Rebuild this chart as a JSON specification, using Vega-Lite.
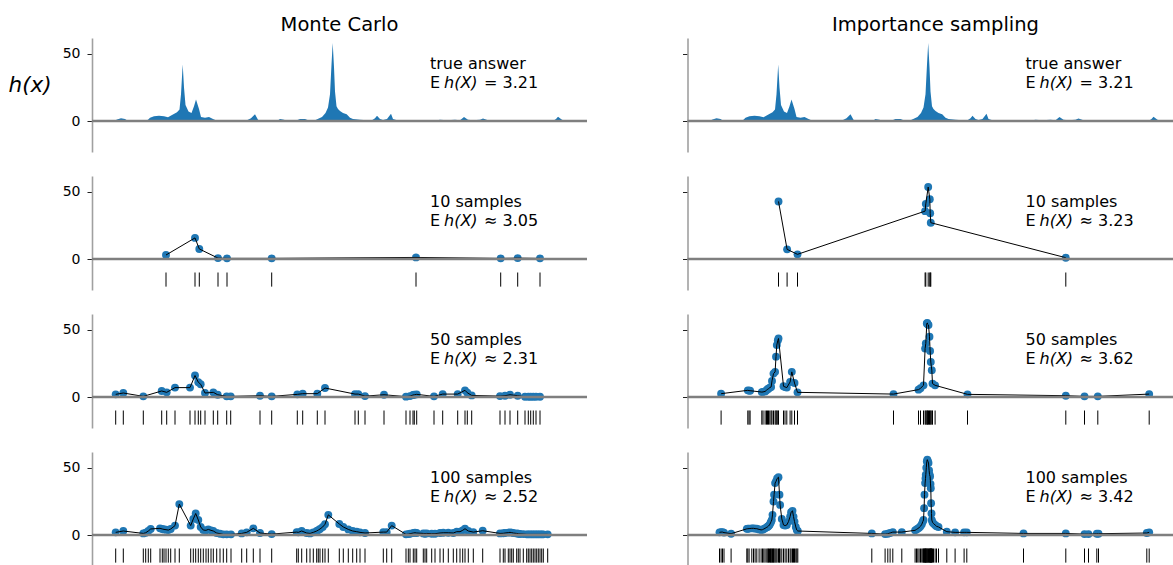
{
"$schema": "https://vega.github.io/schema/vega-lite/v6.json",
"padding": {"left": 8, "top": 14, "right": 0, "bottom": 0},
"spacing": 92.5,
"config": {
 "view": {"stroke": null},
 "axis": {"grid": false, "domainColor": "#a0a0a0", "domainWidth": 1.6, "tickColor": "#222222", "tickSize": 5, "tickWidth": 1, "labelFont": "DejaVu Sans", "labelFontSize": 14, "labelColor": "#000000", "labelPadding": 7},
 "text": {"font": "DejaVu Sans", "fontSize": 16, "color": "#000000", "align": "left", "baseline": "alphabetic"},
 "title": {"font": "DejaVu Sans", "fontSize": 19.5, "fontWeight": "normal", "color": "#000000", "anchor": "middle", "baseline": "alphabetic", "offset": 3}
},
"datasets": {
 "truth": [{"x":8,"h":0},{"x":22,"h":0},{"x":25,"h":1.2},{"x":29,"h":2},{"x":33,"h":1.5},{"x":36,"h":0},{"x":53,"h":0},{"x":56,"h":1},{"x":58,"h":2.5},{"x":62,"h":3.5},{"x":67,"h":4},{"x":72,"h":3.5},{"x":76,"h":2.8},{"x":80,"h":4.5},{"x":85,"h":6.5},{"x":87.5,"h":8.5},{"x":89,"h":20},{"x":90.7,"h":42},{"x":92,"h":25},{"x":93.5,"h":12},{"x":96.5,"h":7},{"x":99.5,"h":6},{"x":102,"h":11},{"x":104,"h":16},{"x":107,"h":9},{"x":109,"h":3},{"x":113,"h":2.5},{"x":117,"h":3},{"x":121,"h":1.5},{"x":125,"h":0.3},{"x":127,"h":0},{"x":152,"h":0},{"x":155,"h":0.5},{"x":159,"h":2},{"x":163,"h":5},{"x":166,"h":1},{"x":168,"h":0},{"x":185,"h":0},{"x":188,"h":1.5},{"x":192,"h":1},{"x":195,"h":0},{"x":203,"h":0},{"x":208,"h":1.5},{"x":213,"h":1.5},{"x":218,"h":0},{"x":223,"h":0.5},{"x":230,"h":3},{"x":233.5,"h":6},{"x":236,"h":10},{"x":238,"h":20},{"x":239.5,"h":42},{"x":240.7,"h":58},{"x":242,"h":40},{"x":243,"h":22},{"x":244.5,"h":11},{"x":246,"h":9},{"x":248,"h":7.5},{"x":251,"h":6},{"x":254.7,"h":5},{"x":258,"h":2.5},{"x":261,"h":1.5},{"x":268,"h":1},{"x":275,"h":0.5},{"x":280,"h":0.5},{"x":283,"h":2},{"x":285,"h":4},{"x":288,"h":1.5},{"x":291,"h":0.8},{"x":295,"h":1.5},{"x":299,"h":5.5},{"x":301,"h":1.5},{"x":305,"h":0.5},{"x":311,"h":0.2},{"x":318,"h":0},{"x":325,"h":0.5},{"x":330,"h":0.3},{"x":335,"h":0},{"x":345,"h":0.5},{"x":348,"h":1},{"x":355,"h":0.5},{"x":363,"h":1},{"x":368,"h":0.5},{"x":372,"h":3},{"x":376,"h":1},{"x":381,"h":0.5},{"x":388,"h":1},{"x":391,"h":1.8},{"x":396,"h":0.5},{"x":403,"h":0},{"x":415,"h":0.3},{"x":418,"h":0.5},{"x":423,"h":0},{"x":461,"h":0},{"x":464,"h":1.5},{"x":466,"h":3.2},{"x":470,"h":1},{"x":473,"h":0}],
 "mc10": [{"x":74,"h":3.0},{"x":103,"h":15.7},{"x":107.3,"h":7.5},{"x":126,"h":0.7},{"x":135,"h":0.5},{"x":179.7,"h":0.5},{"x":324,"h":1.2},{"x":408.7,"h":0.5},{"x":425.7,"h":0.7},{"x":448,"h":0.5}],
 "is10": [{"x":91,"h":42.8},{"x":99.6,"h":7.2},{"x":110,"h":3.5},{"x":237.6,"h":35.6},{"x":238.3,"h":41},{"x":240.7,"h":53.5},{"x":242.3,"h":44.5},{"x":242.7,"h":34},{"x":243.3,"h":27},{"x":378.3,"h":1}],
 "mc50": [{"x":23.7,"h":2},{"x":31.3,"h":3},{"x":51.3,"h":0.5},{"x":69.7,"h":4.5},{"x":74.7,"h":3.5},{"x":83,"h":7},{"x":98,"h":7},{"x":103,"h":16},{"x":106.3,"h":11},{"x":108.7,"h":9.5},{"x":113,"h":3},{"x":121.3,"h":3.5},{"x":125.7,"h":1.7},{"x":134.7,"h":0.5},{"x":138.7,"h":0.5},{"x":168,"h":1},{"x":179.7,"h":0.5},{"x":205.3,"h":2},{"x":210.7,"h":2.5},{"x":225.3,"h":2.5},{"x":233,"h":6.7},{"x":263,"h":2.2},{"x":266.3,"h":2.2},{"x":273,"h":0.7},{"x":292,"h":1.7},{"x":314,"h":0.3},{"x":318,"h":0.7},{"x":321,"h":1.5},{"x":322.3,"h":1.7},{"x":324.7,"h":2},{"x":342,"h":0.5},{"x":350.7,"h":2.2},{"x":365.7,"h":2.2},{"x":373,"h":5},{"x":375.3,"h":3.2},{"x":379.7,"h":1.2},{"x":408,"h":0.7},{"x":413,"h":1},{"x":418,"h":1.7},{"x":425.7,"h":1},{"x":433,"h":0.2},{"x":436.3,"h":0.2},{"x":438.7,"h":0.2},{"x":441.3,"h":0.2},{"x":444,"h":0.2},{"x":448,"h":0.2}],
 "is50": [{"x":33.6,"h":2.5},{"x":60.3,"h":5},{"x":61.5,"h":4.8},{"x":62.6,"h":4.7},{"x":74.3,"h":3.7},{"x":75.5,"h":3.8},{"x":77.6,"h":4.2},{"x":79,"h":5},{"x":80,"h":5.8},{"x":81,"h":6.2},{"x":82.3,"h":7},{"x":83.6,"h":7.5},{"x":84.5,"h":12},{"x":86,"h":17.4},{"x":87.6,"h":18.7},{"x":88.5,"h":30},{"x":89.3,"h":38.6},{"x":90.3,"h":42},{"x":91,"h":43.5},{"x":96,"h":8},{"x":97.5,"h":7.5},{"x":99.3,"h":7},{"x":102.6,"h":11.2},{"x":104.3,"h":18.7},{"x":107,"h":10.4},{"x":110,"h":3.5},{"x":206,"h":2.2},{"x":231,"h":5.5},{"x":233,"h":6.5},{"x":236,"h":8.7},{"x":237.6,"h":36},{"x":238.3,"h":39.8},{"x":239.3,"h":54.7},{"x":239.8,"h":55},{"x":240.3,"h":54},{"x":241,"h":53.5},{"x":242,"h":44.8},{"x":242.6,"h":34.3},{"x":243.3,"h":26},{"x":244.3,"h":20},{"x":245,"h":10},{"x":247.6,"h":8.7},{"x":280,"h":2},{"x":378.3,"h":1},{"x":397,"h":0.5},{"x":410.3,"h":0.5},{"x":461.7,"h":2.2}],
 "mc100": [{"x":23.7,"h":2},{"x":31.3,"h":3},{"x":51.3,"h":1.2},{"x":53.7,"h":1.7},{"x":56.3,"h":3},{"x":58.7,"h":4.5},{"x":68,"h":5},{"x":70.3,"h":4.5},{"x":72,"h":4.2},{"x":74,"h":4},{"x":76.3,"h":3.7},{"x":78.7,"h":4.5},{"x":83,"h":7},{"x":87.3,"h":23},{"x":98.7,"h":7},{"x":101.3,"h":12},{"x":103.7,"h":16},{"x":106.3,"h":11.2},{"x":108.7,"h":6},{"x":111.3,"h":3.7},{"x":114,"h":3.5},{"x":116.3,"h":4.2},{"x":119,"h":3.5},{"x":121.3,"h":3},{"x":124.7,"h":1.5},{"x":128,"h":1},{"x":131.3,"h":0.5},{"x":134.7,"h":0.5},{"x":139,"h":0.5},{"x":149.7,"h":1.2},{"x":154.7,"h":2},{"x":161.3,"h":5},{"x":168,"h":1.5},{"x":179.7,"h":0.7},{"x":204.7,"h":2.2},{"x":206.3,"h":2},{"x":209.7,"h":3},{"x":214.7,"h":1.5},{"x":218,"h":1.2},{"x":221.3,"h":2},{"x":224.7,"h":3},{"x":226.3,"h":3.7},{"x":228,"h":4.5},{"x":230.7,"h":6},{"x":233,"h":8},{"x":236.3,"h":15},{"x":247.3,"h":8.2},{"x":251.3,"h":6},{"x":256.3,"h":4.2},{"x":260.7,"h":3},{"x":264.7,"h":2.5},{"x":268,"h":2},{"x":273,"h":1.5},{"x":291.3,"h":2.2},{"x":294.7,"h":2.2},{"x":299.7,"h":7},{"x":314,"h":0.5},{"x":316.3,"h":0.7},{"x":318,"h":1},{"x":321.3,"h":1.5},{"x":323,"h":1.7},{"x":324.7,"h":1.5},{"x":331.3,"h":1.2},{"x":333,"h":1},{"x":334.7,"h":1.2},{"x":339.7,"h":1},{"x":343,"h":1},{"x":348,"h":1.5},{"x":351.3,"h":1.7},{"x":356.3,"h":1.7},{"x":361.3,"h":1.5},{"x":364.7,"h":2.5},{"x":368,"h":2.5},{"x":370.7,"h":3.5},{"x":373,"h":4.7},{"x":376.3,"h":3},{"x":381.3,"h":2.2},{"x":390.7,"h":3.2},{"x":408,"h":1.2},{"x":411.3,"h":1.3},{"x":413,"h":1.5},{"x":416.3,"h":1.8},{"x":418,"h":2},{"x":419.7,"h":1.8},{"x":421.3,"h":1.5},{"x":424.7,"h":1.2},{"x":426.3,"h":1},{"x":428,"h":0.8},{"x":431.3,"h":0.7},{"x":434.7,"h":0.5},{"x":436.3,"h":0.5},{"x":438,"h":0.5},{"x":439.7,"h":0.5},{"x":441.3,"h":0.5},{"x":443,"h":0.5},{"x":444.7,"h":0.5},{"x":446.3,"h":0.5},{"x":448,"h":0.5},{"x":449.7,"h":0.5},{"x":451.3,"h":0.5},{"x":455.7,"h":0.5}],
 "is100": [{"x":32,"h":2},{"x":33.6,"h":2.2},{"x":35,"h":2.2},{"x":36.5,"h":1.8},{"x":43.6,"h":1},{"x":59.3,"h":4.6},{"x":60.3,"h":4.7},{"x":61.6,"h":4.8},{"x":64.3,"h":5},{"x":66,"h":5},{"x":67.6,"h":4.8},{"x":69.3,"h":4.7},{"x":71.6,"h":4.2},{"x":73.6,"h":3.8},{"x":75,"h":4},{"x":76.3,"h":4.5},{"x":77.6,"h":5},{"x":79.3,"h":5.8},{"x":80.3,"h":6.2},{"x":81,"h":6.7},{"x":82,"h":7.5},{"x":83,"h":9},{"x":83.6,"h":10},{"x":84.3,"h":11.2},{"x":85,"h":15},{"x":86,"h":24.9},{"x":86.6,"h":30},{"x":87.6,"h":38.6},{"x":88.6,"h":40},{"x":89.6,"h":42},{"x":91,"h":43},{"x":92,"h":30},{"x":92.6,"h":22.4},{"x":94.3,"h":12},{"x":96,"h":7.5},{"x":97.6,"h":7},{"x":99.3,"h":7.5},{"x":101,"h":10},{"x":102.6,"h":13.7},{"x":103.6,"h":17},{"x":105,"h":18},{"x":106,"h":13.7},{"x":107,"h":10},{"x":108.3,"h":6},{"x":109.3,"h":3.7},{"x":110.3,"h":3},{"x":184.3,"h":1.2},{"x":197.6,"h":0.7},{"x":200.3,"h":1},{"x":202.6,"h":1.5},{"x":205.3,"h":2.2},{"x":214.3,"h":2.2},{"x":227.6,"h":3.5},{"x":229,"h":4.2},{"x":230.3,"h":4.8},{"x":231.6,"h":5.5},{"x":233,"h":6.5},{"x":234.3,"h":8},{"x":235.3,"h":10},{"x":236,"h":11.2},{"x":236.6,"h":20},{"x":237,"h":30},{"x":237.6,"h":38.6},{"x":238,"h":42},{"x":238.3,"h":44.8},{"x":238.8,"h":50},{"x":239.3,"h":54.7},{"x":239.8,"h":56},{"x":240.3,"h":55},{"x":241,"h":53.5},{"x":241.6,"h":48},{"x":242,"h":45},{"x":242.6,"h":43.5},{"x":243,"h":38},{"x":243.3,"h":34.8},{"x":243.6,"h":23.6},{"x":244,"h":16},{"x":244.3,"h":11.2},{"x":245,"h":9.5},{"x":246,"h":8.5},{"x":247.6,"h":7.5},{"x":249,"h":6.5},{"x":251,"h":6},{"x":259.3,"h":2.5},{"x":267.6,"h":2},{"x":276.6,"h":2},{"x":279.3,"h":2},{"x":336,"h":1.2},{"x":378.3,"h":1.2},{"x":397,"h":0.7},{"x":401,"h":0.7},{"x":409.3,"h":1},{"x":411,"h":1},{"x":459.3,"h":1.5},{"x":461.7,"h":2}]
},
"hconcat": [
 {"spacing": 24, "vconcat": [
  {"width": 495, "height": 114, "title": {"text": "Monte Carlo"}, "data": {"name": "truth"},
   "layer": [
    {"mark": {"type": "area", "color": "#1f77b4", "opacity": 1},
     "encoding": {"x": {"field": "x", "type": "quantitative", "scale": {"domain": [0, 495], "nice": false}, "axis": null},
      "y": {"field": "h", "type": "quantitative", "scale": {"domain": [-23, 61.7], "nice": false, "zero": false},
       "axis": {"values": [0, 50], "title": "h(x)", "titleAngle": 0, "titleFont": "DejaVu Sans", "titleFontSize": 21.5, "titleFontStyle": "italic", "titleFontWeight": "normal", "titleColor": "#000000", "titleAlign": "left", "titleBaseline": "alphabetic", "titleX": -84, "titleY": 53.3}},
      "y2": {"datum": 0}}},
    {"data": {"values": [{}]}, "mark": {"type": "rule", "color": "#7f7f7f", "strokeWidth": 2.5}, "encoding": {"y": {"datum": 0}}},
    {"data": {"values": [{}]}, "mark": {"type": "text", "text": "true answer"}, "encoding": {"x": {"datum": 338}, "y": {"datum": 38.6}}},
    {"data": {"values": [{}]}, "mark": {"type": "text", "text": "E"}, "encoding": {"x": {"datum": 338}, "y": {"datum": 24.9}}},
    {"data": {"values": [{}]}, "mark": {"type": "text", "text": "h(X)", "dx": 14, "fontStyle": "italic"}, "encoding": {"x": {"datum": 338}, "y": {"datum": 24.9}}},
    {"data": {"values": [{}]}, "mark": {"type": "text", "text": "= 3.21", "dx": 54}, "encoding": {"x": {"datum": 338}, "y": {"datum": 24.9}}}
   ]},
  {"width": 495, "height": 114, "data": {"name": "mc10"},
   "layer": [
    {"mark": {"type": "circle", "size": 62, "color": "#1f77b4", "opacity": 1},
     "encoding": {"x": {"field": "x", "type": "quantitative", "scale": {"domain": [0, 495], "nice": false}, "axis": null},
      "y": {"field": "h", "type": "quantitative", "scale": {"domain": [-23, 61.7], "nice": false, "zero": false}, "axis": {"values": [0, 50], "title": null}}}},
    {"mark": {"type": "line", "color": "#000000", "strokeWidth": 1}, "encoding": {"x": {"field": "x", "type": "quantitative"}, "y": {"field": "h", "type": "quantitative"}}},
    {"data": {"values": [{}]}, "mark": {"type": "rule", "color": "#7f7f7f", "strokeWidth": 2.5}, "encoding": {"y": {"datum": 0}}},
    {"mark": {"type": "rule", "color": "#000000", "strokeWidth": 1}, "encoding": {"x": {"field": "x", "type": "quantitative"}, "y": {"datum": -10}, "y2": {"datum": -20.5}}},
    {"data": {"values": [{}]}, "mark": {"type": "text", "text": "10 samples"}, "encoding": {"x": {"datum": 338}, "y": {"datum": 38.6}}},
    {"data": {"values": [{}]}, "mark": {"type": "text", "text": "E"}, "encoding": {"x": {"datum": 338}, "y": {"datum": 24.9}}},
    {"data": {"values": [{}]}, "mark": {"type": "text", "text": "h(X)", "dx": 14, "fontStyle": "italic"}, "encoding": {"x": {"datum": 338}, "y": {"datum": 24.9}}},
    {"data": {"values": [{}]}, "mark": {"type": "text", "text": "≈ 3.05", "dx": 54}, "encoding": {"x": {"datum": 338}, "y": {"datum": 24.9}}}
   ]},
  {"width": 495, "height": 114, "data": {"name": "mc50"},
   "layer": [
    {"mark": {"type": "circle", "size": 62, "color": "#1f77b4", "opacity": 1},
     "encoding": {"x": {"field": "x", "type": "quantitative", "scale": {"domain": [0, 495], "nice": false}, "axis": null},
      "y": {"field": "h", "type": "quantitative", "scale": {"domain": [-23, 61.7], "nice": false, "zero": false}, "axis": {"values": [0, 50], "title": null}}}},
    {"mark": {"type": "line", "color": "#000000", "strokeWidth": 1}, "encoding": {"x": {"field": "x", "type": "quantitative"}, "y": {"field": "h", "type": "quantitative"}}},
    {"data": {"values": [{}]}, "mark": {"type": "rule", "color": "#7f7f7f", "strokeWidth": 2.5}, "encoding": {"y": {"datum": 0}}},
    {"mark": {"type": "rule", "color": "#000000", "strokeWidth": 1}, "encoding": {"x": {"field": "x", "type": "quantitative"}, "y": {"datum": -10}, "y2": {"datum": -20.5}}},
    {"data": {"values": [{}]}, "mark": {"type": "text", "text": "50 samples"}, "encoding": {"x": {"datum": 338}, "y": {"datum": 38.6}}},
    {"data": {"values": [{}]}, "mark": {"type": "text", "text": "E"}, "encoding": {"x": {"datum": 338}, "y": {"datum": 24.9}}},
    {"data": {"values": [{}]}, "mark": {"type": "text", "text": "h(X)", "dx": 14, "fontStyle": "italic"}, "encoding": {"x": {"datum": 338}, "y": {"datum": 24.9}}},
    {"data": {"values": [{}]}, "mark": {"type": "text", "text": "≈ 2.31", "dx": 54}, "encoding": {"x": {"datum": 338}, "y": {"datum": 24.9}}}
   ]},
  {"width": 495, "height": 114, "data": {"name": "mc100"},
   "layer": [
    {"mark": {"type": "circle", "size": 62, "color": "#1f77b4", "opacity": 1},
     "encoding": {"x": {"field": "x", "type": "quantitative", "scale": {"domain": [0, 495], "nice": false}, "axis": null},
      "y": {"field": "h", "type": "quantitative", "scale": {"domain": [-23, 61.7], "nice": false, "zero": false}, "axis": {"values": [0, 50], "title": null}}}},
    {"mark": {"type": "line", "color": "#000000", "strokeWidth": 1}, "encoding": {"x": {"field": "x", "type": "quantitative"}, "y": {"field": "h", "type": "quantitative"}}},
    {"data": {"values": [{}]}, "mark": {"type": "rule", "color": "#7f7f7f", "strokeWidth": 2.5}, "encoding": {"y": {"datum": 0}}},
    {"mark": {"type": "rule", "color": "#000000", "strokeWidth": 1}, "encoding": {"x": {"field": "x", "type": "quantitative"}, "y": {"datum": -10}, "y2": {"datum": -20.5}}},
    {"data": {"values": [{}]}, "mark": {"type": "text", "text": "100 samples"}, "encoding": {"x": {"datum": 338}, "y": {"datum": 38.6}}},
    {"data": {"values": [{}]}, "mark": {"type": "text", "text": "E"}, "encoding": {"x": {"datum": 338}, "y": {"datum": 24.9}}},
    {"data": {"values": [{}]}, "mark": {"type": "text", "text": "h(X)", "dx": 14, "fontStyle": "italic"}, "encoding": {"x": {"datum": 338}, "y": {"datum": 24.9}}},
    {"data": {"values": [{}]}, "mark": {"type": "text", "text": "≈ 2.52", "dx": 54}, "encoding": {"x": {"datum": 338}, "y": {"datum": 24.9}}}
   ]}
 ]},
 {"spacing": 24, "vconcat": [
  {"width": 487, "height": 114, "title": {"text": "Importance sampling", "dx": 4.5}, "data": {"name": "truth"},
   "layer": [
    {"mark": {"type": "area", "color": "#1f77b4", "opacity": 1},
     "encoding": {"x": {"field": "x", "type": "quantitative", "scale": {"domain": [0, 487], "nice": false}, "axis": null},
      "y": {"field": "h", "type": "quantitative", "scale": {"domain": [-23, 61.7], "nice": false, "zero": false}, "axis": {"values": [0, 50], "title": null, "labels": false}},
      "y2": {"datum": 0}}},
    {"data": {"values": [{}]}, "mark": {"type": "rule", "color": "#7f7f7f", "strokeWidth": 2.5}, "encoding": {"y": {"datum": 0}}},
    {"data": {"values": [{}]}, "mark": {"type": "text", "text": "true answer"}, "encoding": {"x": {"datum": 338}, "y": {"datum": 38.6}}},
    {"data": {"values": [{}]}, "mark": {"type": "text", "text": "E"}, "encoding": {"x": {"datum": 338}, "y": {"datum": 24.9}}},
    {"data": {"values": [{}]}, "mark": {"type": "text", "text": "h(X)", "dx": 14, "fontStyle": "italic"}, "encoding": {"x": {"datum": 338}, "y": {"datum": 24.9}}},
    {"data": {"values": [{}]}, "mark": {"type": "text", "text": "= 3.21", "dx": 54}, "encoding": {"x": {"datum": 338}, "y": {"datum": 24.9}}}
   ]},
  {"width": 487, "height": 114, "data": {"name": "is10"},
   "layer": [
    {"mark": {"type": "circle", "size": 62, "color": "#1f77b4", "opacity": 1},
     "encoding": {"x": {"field": "x", "type": "quantitative", "scale": {"domain": [0, 487], "nice": false}, "axis": null},
      "y": {"field": "h", "type": "quantitative", "scale": {"domain": [-23, 61.7], "nice": false, "zero": false}, "axis": {"values": [0, 50], "title": null, "labels": false}}}},
    {"mark": {"type": "line", "color": "#000000", "strokeWidth": 1}, "encoding": {"x": {"field": "x", "type": "quantitative"}, "y": {"field": "h", "type": "quantitative"}}},
    {"data": {"values": [{}]}, "mark": {"type": "rule", "color": "#7f7f7f", "strokeWidth": 2.5}, "encoding": {"y": {"datum": 0}}},
    {"mark": {"type": "rule", "color": "#000000", "strokeWidth": 1}, "encoding": {"x": {"field": "x", "type": "quantitative"}, "y": {"datum": -10}, "y2": {"datum": -20.5}}},
    {"data": {"values": [{}]}, "mark": {"type": "text", "text": "10 samples"}, "encoding": {"x": {"datum": 338}, "y": {"datum": 38.6}}},
    {"data": {"values": [{}]}, "mark": {"type": "text", "text": "E"}, "encoding": {"x": {"datum": 338}, "y": {"datum": 24.9}}},
    {"data": {"values": [{}]}, "mark": {"type": "text", "text": "h(X)", "dx": 14, "fontStyle": "italic"}, "encoding": {"x": {"datum": 338}, "y": {"datum": 24.9}}},
    {"data": {"values": [{}]}, "mark": {"type": "text", "text": "≈ 3.23", "dx": 54}, "encoding": {"x": {"datum": 338}, "y": {"datum": 24.9}}}
   ]},
  {"width": 487, "height": 114, "data": {"name": "is50"},
   "layer": [
    {"mark": {"type": "circle", "size": 62, "color": "#1f77b4", "opacity": 1},
     "encoding": {"x": {"field": "x", "type": "quantitative", "scale": {"domain": [0, 487], "nice": false}, "axis": null},
      "y": {"field": "h", "type": "quantitative", "scale": {"domain": [-23, 61.7], "nice": false, "zero": false}, "axis": {"values": [0, 50], "title": null, "labels": false}}}},
    {"mark": {"type": "line", "color": "#000000", "strokeWidth": 1}, "encoding": {"x": {"field": "x", "type": "quantitative"}, "y": {"field": "h", "type": "quantitative"}}},
    {"data": {"values": [{}]}, "mark": {"type": "rule", "color": "#7f7f7f", "strokeWidth": 2.5}, "encoding": {"y": {"datum": 0}}},
    {"mark": {"type": "rule", "color": "#000000", "strokeWidth": 1}, "encoding": {"x": {"field": "x", "type": "quantitative"}, "y": {"datum": -10}, "y2": {"datum": -20.5}}},
    {"data": {"values": [{}]}, "mark": {"type": "text", "text": "50 samples"}, "encoding": {"x": {"datum": 338}, "y": {"datum": 38.6}}},
    {"data": {"values": [{}]}, "mark": {"type": "text", "text": "E"}, "encoding": {"x": {"datum": 338}, "y": {"datum": 24.9}}},
    {"data": {"values": [{}]}, "mark": {"type": "text", "text": "h(X)", "dx": 14, "fontStyle": "italic"}, "encoding": {"x": {"datum": 338}, "y": {"datum": 24.9}}},
    {"data": {"values": [{}]}, "mark": {"type": "text", "text": "≈ 3.62", "dx": 54}, "encoding": {"x": {"datum": 338}, "y": {"datum": 24.9}}}
   ]},
  {"width": 487, "height": 114, "data": {"name": "is100"},
   "layer": [
    {"mark": {"type": "circle", "size": 62, "color": "#1f77b4", "opacity": 1},
     "encoding": {"x": {"field": "x", "type": "quantitative", "scale": {"domain": [0, 487], "nice": false}, "axis": null},
      "y": {"field": "h", "type": "quantitative", "scale": {"domain": [-23, 61.7], "nice": false, "zero": false}, "axis": {"values": [0, 50], "title": null, "labels": false}}}},
    {"mark": {"type": "line", "color": "#000000", "strokeWidth": 1}, "encoding": {"x": {"field": "x", "type": "quantitative"}, "y": {"field": "h", "type": "quantitative"}}},
    {"data": {"values": [{}]}, "mark": {"type": "rule", "color": "#7f7f7f", "strokeWidth": 2.5}, "encoding": {"y": {"datum": 0}}},
    {"mark": {"type": "rule", "color": "#000000", "strokeWidth": 1}, "encoding": {"x": {"field": "x", "type": "quantitative"}, "y": {"datum": -10}, "y2": {"datum": -20.5}}},
    {"data": {"values": [{}]}, "mark": {"type": "text", "text": "100 samples"}, "encoding": {"x": {"datum": 338}, "y": {"datum": 38.6}}},
    {"data": {"values": [{}]}, "mark": {"type": "text", "text": "E"}, "encoding": {"x": {"datum": 338}, "y": {"datum": 24.9}}},
    {"data": {"values": [{}]}, "mark": {"type": "text", "text": "h(X)", "dx": 14, "fontStyle": "italic"}, "encoding": {"x": {"datum": 338}, "y": {"datum": 24.9}}},
    {"data": {"values": [{}]}, "mark": {"type": "text", "text": "≈ 3.42", "dx": 54}, "encoding": {"x": {"datum": 338}, "y": {"datum": 24.9}}}
   ]}
 ]}
]
}
